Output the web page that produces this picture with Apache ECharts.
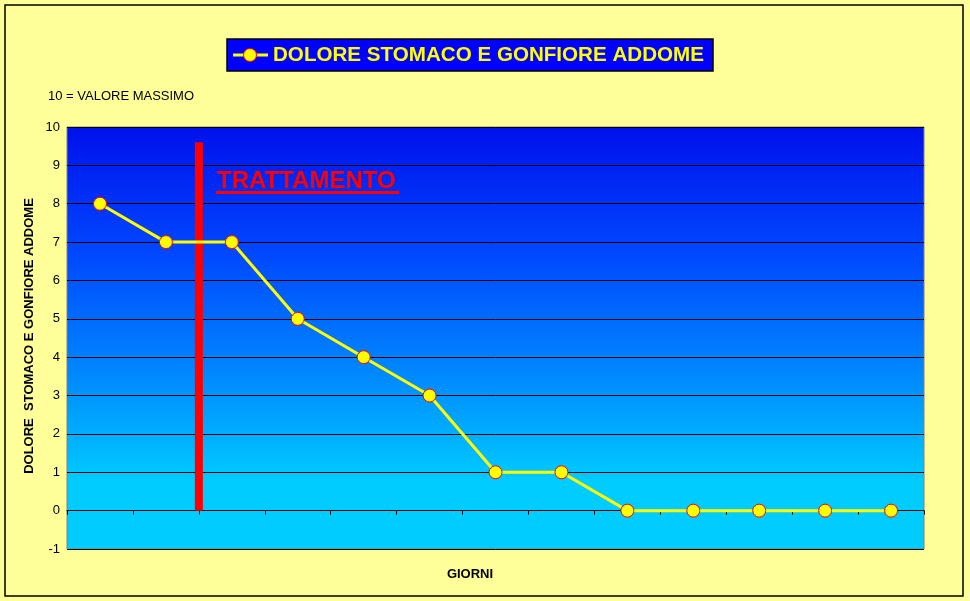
<!DOCTYPE html>
<html><head><meta charset="utf-8">
<script src="https://cdn.jsdelivr.net/npm/echarts@6/dist/echarts.min.js"></script>
<style>html,body{margin:0;padding:0;background:#fff;}#c{width:970px;height:601px;}</style>
</head><body><div id="c"></div>
<script>
const days = ['1','2','3','4','5','6','7','8','9','10','11','12','13'];
const painValues = [8, 7, 7, 5, 4, 3, 1, 1, 0, 0, 0, 0, 0];
const treatmentMarker = [[1.5, 0], [1.5, 9.6]];
const yTicks = { min: -1, max: 10, interval: 1 };
const seriesName = 'DOLORE STOMACO E GONFIORE ADDOME';
const yAxisTitle = 'DOLORE  STOMACO E GONFIORE ADDOME';
const xAxisTitle = 'GIORNI';
const noteText = '10 = VALORE MASSIMO';
const annotationText = 'TRATTAMENTO';

const chart = echarts.init(document.getElementById('c'), null, {renderer: 'canvas'});
const font = 'Liberation Sans, Arial, sans-serif';
chart.setOption({
  backgroundColor: '#FFFF99',
  animation: false,
  textStyle: { fontFamily: font },
  grid: {
    left: 67, right: 46, top: 127, bottom: 52,
    show: true, borderColor: '#808080', borderWidth: 1,
    backgroundColor: new echarts.graphic.LinearGradient(0, 0, 0, 1, [
      {offset: 0, color: '#0010EC'},
      {offset: 0.3, color: '#0048FF'},
      {offset: 0.6, color: '#008CFF'},
      {offset: 0.84, color: '#00CCFF'},
      {offset: 1, color: '#00CCFF'}
    ])
  },
  xAxis: [{
    type: 'category', data: days, boundaryGap: true,
    axisLine: { onZero: true, lineStyle: { color: '#000', width: 1 } },
    axisTick: { show: true, length: 4, inside: false, lineStyle: { color: '#000' } },
    axisLabel: { show: false }
  }, {
    type: 'value', min: -0.5, max: 12.5, show: false
  }],
  yAxis: {
    type: 'value', min: yTicks.min, max: yTicks.max, interval: yTicks.interval,
    axisLine: { show: false }, axisTick: { show: false },
    axisLabel: { color: '#000', fontSize: 13, fontFamily: font, margin: 7 },
    splitLine: { show: true, lineStyle: { color: '#000', width: 1 } }
  },
  series: [{
    name: 'treatment', type: 'line', xAxisIndex: 1, data: treatmentMarker,
    symbol: 'none', lineStyle: { color: '#FF0000', width: 8 }, z: 3, silent: true
  }, {
    name: seriesName, type: 'line', data: painValues,
    symbol: 'circle', symbolSize: 13,
    lineStyle: { color: '#FFFF00', width: 3 },
    itemStyle: { color: '#FFFF00', borderColor: '#FF0000', borderWidth: 1 },
    z: 4
  }],
  graphic: [
    { type: 'rect', shape: { x: 5, y: 5, width: 958, height: 591 },
      style: { fill: 'none', stroke: '#000', lineWidth: 1.5 }, z: 100 },
    { type: 'rect', shape: { x: 227, y: 39, width: 486, height: 32 },
      style: { fill: '#0000FF', stroke: '#000', lineWidth: 1.5 }, z: 100 },
    { type: 'line', shape: { x1: 233, y1: 55, x2: 268, y2: 55 },
      style: { stroke: '#FFFF00', lineWidth: 3 }, z: 101 },
    { type: 'circle', shape: { cx: 250, cy: 55, r: 6.5 },
      style: { fill: '#FFFF00', stroke: '#FF0000', lineWidth: 1 }, z: 102 },
    { type: 'text', x: 273, y: 55,
      style: { text: seriesName, fill: '#FFFF00', font: 'bold 20.6px ' + font, verticalAlign: 'middle' }, z: 102 },
    { type: 'text', x: 48, y: 96,
      style: { text: noteText, fill: '#000', font: '13px ' + font, verticalAlign: 'middle' }, z: 100 },
    { type: 'text', x: 470, y: 574,
      style: { text: xAxisTitle, fill: '#000', font: 'bold 13px ' + font, align: 'center', verticalAlign: 'middle' }, z: 100 },
    { type: 'text', x: 29, y: 336, rotation: Math.PI / 2,
      style: { text: yAxisTitle, fill: '#000', font: 'bold 13px ' + font, align: 'center', verticalAlign: 'middle' }, z: 100 },
    { type: 'text', x: 217, y: 181,
      style: { text: annotationText, fill: '#FF0000', font: 'bold 24px ' + font, verticalAlign: 'middle' }, z: 100 },
    { type: 'rect', shape: { x: 216, y: 191, width: 183, height: 3 },
      style: { fill: '#FF0000' }, z: 100 }
  ]
});
</script></body></html>
